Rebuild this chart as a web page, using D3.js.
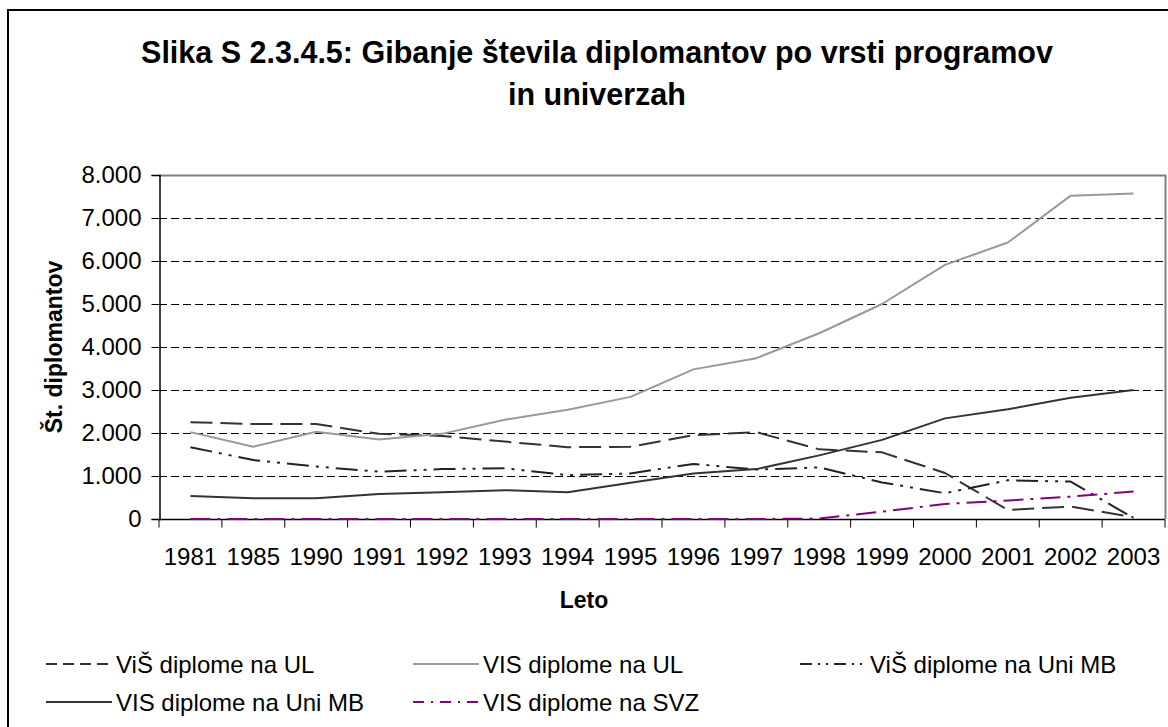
<!DOCTYPE html>
<html><head><meta charset="utf-8">
<script src="https://cdn.jsdelivr.net/npm/d3@7"></script>
<style>
html,body{margin:0;padding:0;background:#fff;}
svg{display:block;font-family:"Liberation Sans",Arial,sans-serif;}
</style></head>
<body>
<svg id="chart" width="1168" height="727"></svg>
<script>
const years = ["1981","1985","1990","1991","1992","1993","1994","1995","1996","1997","1998","1999","2000","2001","2002","2003"];
const visUL   = [2020,1680,2030,1850,1980,2310,2540,2840,3480,3740,4320,5000,5910,6430,7520,7570];
const visMB   = [535,480,480,580,620,670,620,845,1060,1160,1480,1840,2340,2550,2820,3000];
const visSVZ  = [0,0,0,0,0,0,0,0,0,0,10,170,350,430,520,640];
const visUL_name = "VIS diplome na UL";
const visMB_name = "VIS diplome na Uni MB";
const visSVZ_name = "VIS diplome na SVZ";
const visjeUL = [2250,2210,2210,1980,1930,1800,1670,1680,1950,2020,1620,1550,1070,210,290,40];
const visjeMB = [1670,1370,1220,1100,1160,1180,1020,1060,1280,1150,1200,850,600,900,870,20];
const visjeUL_name = "ViŠ diplome na UL";
const visjeMB_name = "ViŠ diplome na Uni MB";
const yTicks = [0,1000,2000,3000,4000,5000,6000,7000,8000];
const yTickLabels = ["0","1.000","2.000","3.000","4.000","5.000","6.000","7.000","8.000"];
const titleLines = ["Slika S 2.3.4.5: Gibanje števila diplomantov po vrsti programov","in univerzah"];
const yTitle = "Št. diplomantov";
const xTitle = "Leto";

const series = [
  {name: visjeUL_name, values: visjeUL, color:"#333333", w:2, dash:"22,8", ldash:"11,6"},
  {name: visUL_name, values: visUL, color:"#999999", w:2, dash:null, ldash:null},
  {name: visjeMB_name, values: visjeMB, color:"#222222", w:2, dash:"22,7,3,7,3,7", ldash:"12,6,2,6,2,6"},
  {name: visMB_name, values: visMB, color:"#333333", w:2, dash:null, ldash:null},
  {name: visSVZ_name, values: visSVZ, color:"#800080", w:2, dash:"20,7,3,7", ldash:"11,7,2,7"}
];

const svg = d3.select("#chart");
// outer chart border
svg.append("rect").attr("x",8).attr("y",10).attr("width",1180).attr("height",740)
  .attr("fill","#fff").attr("stroke","#000").attr("stroke-width",2);

const L=159, R=1165, T=175, B=519;
const x = d3.scaleBand().domain(years).range([L,R]);
const y = d3.scaleLinear().domain([0,8000]).range([B,T]);

// title
svg.append("g").selectAll("text").data(titleLines).join("text")
  .attr("x",597).attr("y",(d,i)=>63+i*42).attr("text-anchor","middle")
  .attr("font-size",30.5).attr("font-weight","bold").text(d=>d);

// gridlines
svg.append("g").selectAll("line").data(yTicks.filter(v=>v>0&&v<8000)).join("line")
  .attr("x1",L).attr("x2",R).attr("y1",d=>Math.round(y(d))+0.5).attr("y2",d=>Math.round(y(d))+0.5)
  .attr("stroke","#000").attr("stroke-width",1).attr("stroke-dasharray","8,4");

// plot border top/right
svg.append("path").attr("d",`M${L},${T+0.5}H${R+0.5}V${B}`).attr("fill","none").attr("stroke","#808080").attr("stroke-width",2);

// y axis
const yAxis = d3.axisLeft(y).tickValues(yTicks).tickFormat((d,i)=>yTickLabels[i]).tickSize(8).tickPadding(10);
const gy = svg.append("g").attr("transform",`translate(${L+0.5},0)`).call(yAxis);
gy.select(".domain").attr("stroke","#000").attr("stroke-width",1.5);
gy.selectAll(".tick line").attr("stroke","#000");
gy.selectAll(".tick text").attr("font-size",24).attr("font-family","Liberation Sans, Arial, sans-serif").attr("fill","#000");

// x axis with ticks at category boundaries
const gx = svg.append("g").attr("transform",`translate(0,${B+0.5})`);
gx.append("line").attr("x1",L).attr("x2",R).attr("stroke","#000").attr("stroke-width",1.5);
const bounds = years.map(d=>x(d)).concat([R]);
gx.selectAll("line.t").data(bounds).join("line").attr("class","t")
  .attr("x1",d=>d).attr("x2",d=>d).attr("y1",0).attr("y2",8).attr("stroke","#000");
gx.selectAll("text").data(years).join("text")
  .attr("x",d=>x(d)+x.bandwidth()/2).attr("y",45).attr("text-anchor","middle")
  .attr("font-size",24).text(d=>d);

// axis titles
svg.append("text").attr("transform","translate(62,347) rotate(-90)").attr("text-anchor","middle")
  .attr("font-size",23).attr("font-weight","bold").text(yTitle);
svg.append("text").attr("x",584).attr("y",608).attr("text-anchor","middle")
  .attr("font-size",23).attr("font-weight","bold").text(xTitle);

// lines
const line = d3.line().x((d,i)=>x(years[i])+x.bandwidth()/2).y(d=>y(d));
svg.append("g").selectAll("path").data(series).join("path")
  .attr("d",s=>line(s.values)).attr("fill","none")
  .attr("stroke",s=>s.color).attr("stroke-width",s=>s.w)
  .attr("stroke-dasharray",s=>s.dash).attr("stroke-linejoin","round");

// legend
const legPos = [[46,664],[413,664],[800,664],[46,702],[413,702]];
const lg = svg.append("g").selectAll("g").data(series).join("g")
  .attr("transform",(d,i)=>`translate(${legPos[i][0]},${legPos[i][1]})`);
lg.append("line").attr("x1",0).attr("x2",66).attr("y1",0).attr("y2",0)
  .attr("stroke",s=>s.color).attr("stroke-width",s=>s.w).attr("stroke-dasharray",s=>s.ldash);
lg.append("text").attr("x",70).attr("y",8.5).attr("font-size",24).text(s=>s.name);
</script>
</body></html>
